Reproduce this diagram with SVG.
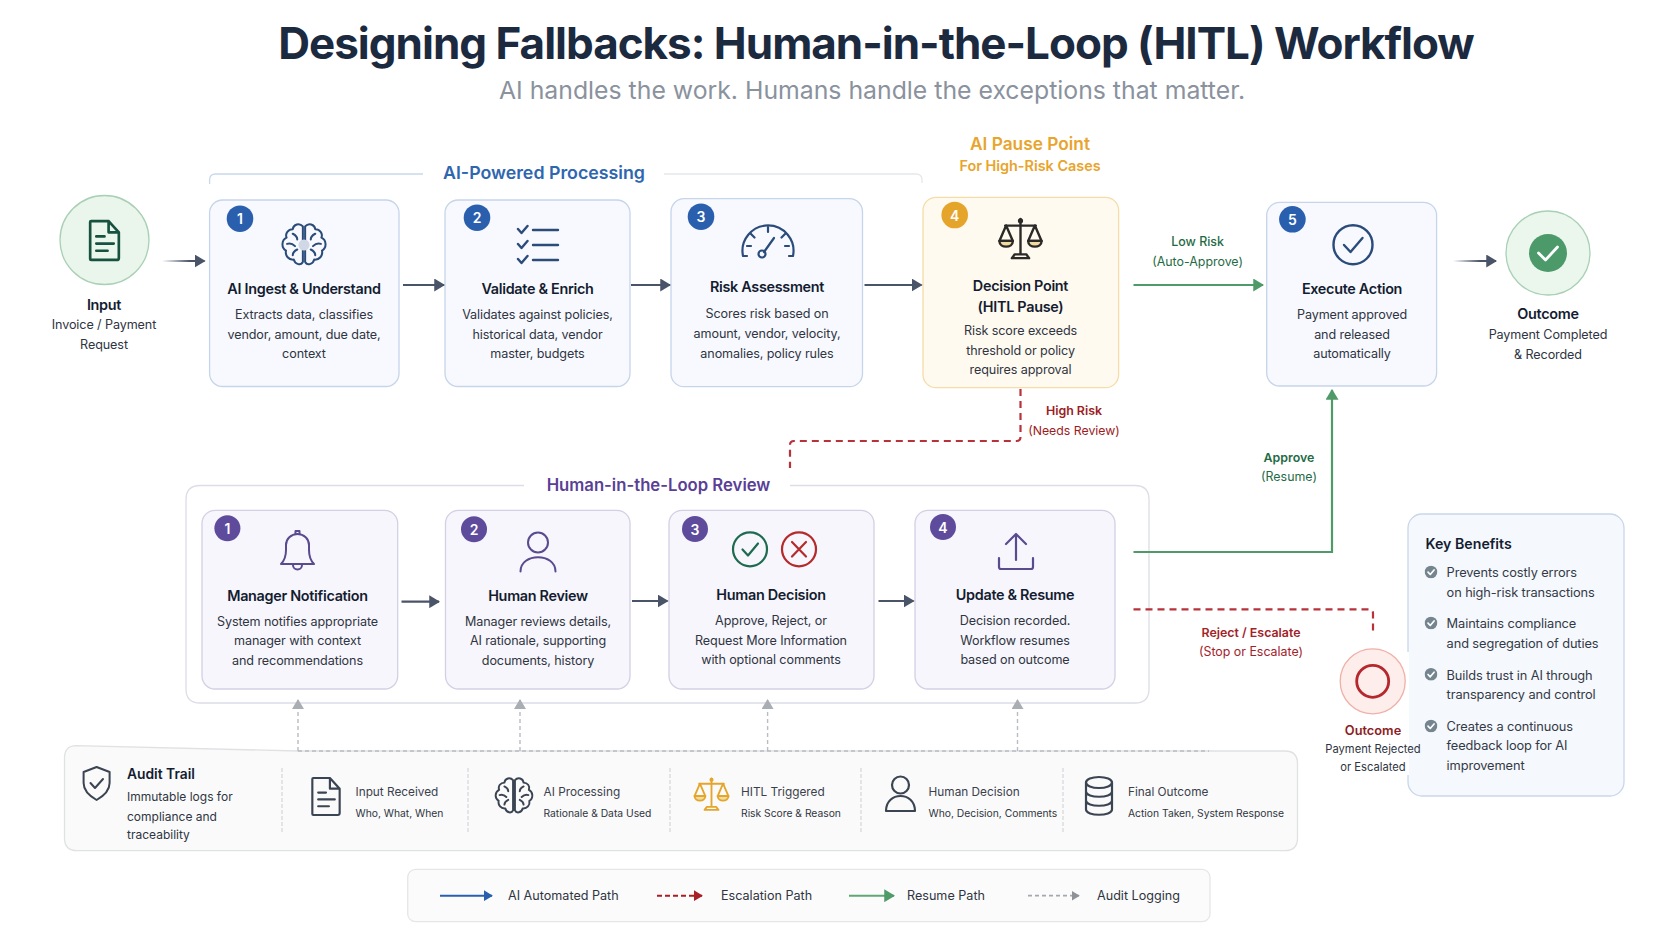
<svg xmlns="http://www.w3.org/2000/svg" width="1672" height="941" viewBox="0 0 1672 941">
<style>
text{font-family:"Inter","Liberation Sans",sans-serif;dominant-baseline:central;fill:#2f3542}
.m{text-anchor:middle}
.ttl{font-size:44px;font-weight:700;fill:#1c2a3f;letter-spacing:-1px}
.sub{font-size:24.800px;fill:#8a929e}
.h{font-size:14.400px;font-weight:600;fill:#141c30;text-anchor:middle;letter-spacing:-.3px}
.b{font-size:12.600px;fill:#2f3542;text-anchor:middle;letter-spacing:-.1px}
.n{font-size:14px;font-weight:600;fill:#fff;text-anchor:middle}
.card{fill:#f7f9fe;stroke:#c6d5ea;stroke-width:1.3}
.pcard{fill:#f7f6fc;stroke:#d3d0e4;stroke-width:1.3}
.bb{fill:#2a5fae}.pb{fill:#5f4b9b}
.ic{fill:none;stroke-linecap:round;stroke-linejoin:round}
.c{fill:none;stroke-width:2.2}
.slate{stroke:#4a5468}
.grn{stroke:#4f9a68}
.red{stroke:#b8323a;stroke-dasharray:7 5}
.aud{stroke:#b9bcc2;stroke-width:1.4;stroke-dasharray:4 3}
.at{font-size:11.800px;fill:#3a404c}
.as{font-size:10.300px;fill:#2f3542}
.lg{font-size:12.600px;fill:#2f3542}
.kb{font-size:12.800px;fill:#333a46;letter-spacing:-.1px}
.cl{font-size:12.400px}
</style>
<defs>
<marker id="aS" viewBox="0 0 10 12" refX="9" refY="6" markerWidth="11" markerHeight="13" markerUnits="userSpaceOnUse" orient="auto"><path d="M0 0L10 6L0 12z" fill="#4a5468"/></marker>
<marker id="aG" viewBox="0 0 10 12" refX="9" refY="6" markerWidth="11" markerHeight="13" markerUnits="userSpaceOnUse" orient="auto"><path d="M0 0L10 6L0 12z" fill="#4f9a68"/></marker>
<marker id="aA" viewBox="0 0 10 12" refX="9" refY="6" markerWidth="10" markerHeight="12" markerUnits="userSpaceOnUse" orient="auto"><path d="M0 0L10 6L0 12z" fill="#a9adb4"/></marker>
<marker id="aB" viewBox="0 0 10 12" refX="9" refY="6" markerWidth="9" markerHeight="11" markerUnits="userSpaceOnUse" orient="auto"><path d="M0 0L10 6L0 12z" fill="#2a5fae"/></marker>
<marker id="aR" viewBox="0 0 10 12" refX="9" refY="6" markerWidth="9" markerHeight="11" markerUnits="userSpaceOnUse" orient="auto"><path d="M0 0L10 6L0 12z" fill="#a81f26"/></marker>
<marker id="aL" viewBox="0 0 10 12" refX="9" refY="6" markerWidth="8" markerHeight="10" markerUnits="userSpaceOnUse" orient="auto"><path d="M0 0L10 6L0 12z" fill="#8f9298"/></marker>
<linearGradient id="fa" gradientUnits="userSpaceOnUse" x1="162" y1="0" x2="190" y2="0"><stop offset="0" stop-color="#4a5468" stop-opacity="0"/><stop offset="1" stop-color="#4a5468"/></linearGradient>
<linearGradient id="fb" gradientUnits="userSpaceOnUse" x1="1453" y1="0" x2="1480" y2="0"><stop offset="0" stop-color="#4a5468" stop-opacity="0"/><stop offset="1" stop-color="#4a5468"/></linearGradient>
<symbol id="brain" viewBox="0 0 48 48">
<g class="ic">
<path d="M23 7.500c-3-3.500-8.500-2-9 2.500c-4 0-7 3.500-5.500 7.500c-4.500 2-5 9-.5 11.500c-1 4.500 2.500 8.500 7 8c1 4.500 6.500 5.500 8 2z"/>
<path d="M25 7.500c3-3.500 8.500-2 9 2.500c4 0 7 3.500 5.500 7.500c4.500 2 5 9 .5 11.500c1 4.500-2.500 8.500-7 8c-1 4.500-6.500 5.500-8 2z"/>
<path d="M14 14c2 1 4 3 4 5M9 23c3-1 5 0 7 2M14 33c0-3 2-4 4-5M34 14c-2 1-4 3-4 5M39 23c-3-1-5 0-7 2M34 33c0-3-2-4-4-5"/>
</g></symbol>
<symbol id="scales" viewBox="0 0 48 48"><g class="ic">
<path d="M24 3v37M15 44h18l-3-4H18zM8 10h32"/>
<circle cx="24" cy="5" r="1.500"/>
<path d="M9 10L2 26h14zM39 10L32 26h14z"/>
<path d="M2 26c0 8 14 8 14 0zM32 26c0 8 14 8 14 0z" fill="#f0dba0"/>
</g></symbol>
<symbol id="doc" viewBox="0 0 32 42"><g class="ic">
<path d="M3 2h17l10 11v25a2 2 0 0 1-2 2H3a1 1 0 0 1-1-1V3a1 1 0 0 1 1-1zM20 2v11h10"/>
<path d="M8 17h8M8 24h17M8 31h11"/>
</g></symbol>
<symbol id="cm" viewBox="0 0 14 14"><circle cx="7" cy="7" r="6.800" fill="#74858f"/><path d="M3.800 7.200L6.200 9.700L10.300 4.800" fill="none" stroke="#fff" stroke-width="1.800" stroke-linecap="round" stroke-linejoin="round"/></symbol>
</defs>

<rect width="1672" height="941" fill="#fff"/>
<text class="ttl m" x="876" y="43">Designing Fallbacks: Human-in-the-Loop (HITL) Workflow</text>
<text class="sub m" x="872" y="90">AI handles the work. Humans handle the exceptions that matter.</text>

<g id="frames">
<path d="M209.600 184V180q0-6 6-6H423" fill="none" stroke="#c9d9ea" stroke-width="1.300"/>
<path d="M664 174H916q6 0 6 6v3" fill="none" stroke="#e6e8ea" stroke-width="1.300"/>
<text x="544" y="172" class="m" style="font-size:17.800px;font-weight:600;fill:#2f66b0">AI-Powered Processing</text>
<path d="M524 485.500H200q-14 0-14 14V689q0 14 14 14H1135q14 0 14-14V499.500q0-14-14-14H790" fill="none" stroke="#dcdde6" stroke-width="1.300"/>
<text x="658.500" y="485" class="m" style="font-size:16.700px;font-weight:600;fill:#5a3f96">Human-in-the-Loop Review</text>
<text x="1030" y="143" class="m" style="font-size:17.300px;font-weight:600;fill:#e8a42c">AI Pause Point</text>
<text x="1030" y="165.500" class="m" style="font-size:14.400px;font-weight:600;fill:#e8a42c">For High-Risk Cases</text>
</g>

<g id="input">
<circle cx="104.500" cy="240" r="44.500" fill="#eaf5ec" stroke="#a8d0b4" stroke-width="1.300"/>
<use href="#doc" x="88" y="219" width="33" height="43" style="stroke:#17513f;stroke-width:2.600"/>
<text class="h" x="104" y="304">Input</text>
<text class="b" x="104" y="324">Invoice / Payment</text>
<text class="b" x="104" y="344">Request</text>
</g>

<g id="step1">
<rect class="card" x="209.600" y="200" width="189.400" height="186.500" rx="13"/>
<circle class="bb" cx="240" cy="218.700" r="13.300"/><text class="n" x="240" y="218.700">1</text>
<use href="#brain" x="277" y="218" width="54" height="54" style="stroke:#2b4c7a;stroke-width:1.800"/>
<circle cx="304" cy="245" r="5.500" fill="#cfd8e4"/>
<text class="h" x="304" y="288">AI Ingest &amp; Understand</text>
<text class="b" x="304" y="314">Extracts data, classifies</text>
<text class="b" x="304" y="334">vendor, amount, due date,</text>
<text class="b" x="304" y="353.500">context</text>
</g>

<g id="step2">
<rect class="card" x="445" y="200" width="185" height="186.500" rx="13"/>
<circle class="bb" cx="477" cy="217.700" r="13.300"/><text class="n" x="477" y="217.700">2</text>
<g class="ic" style="stroke:#2b4c7a;stroke-width:2.400"><path d="M518 229l3.500 4l6-7M518 244l3.500 4l6-7M518 259l3.500 4l6-7"/><path d="M533 230h25M533 245h25M533 260h25"/></g>
<text class="h" x="537.500" y="288">Validate &amp; Enrich</text>
<text class="b" x="537.500" y="314">Validates against policies,</text>
<text class="b" x="537.500" y="334">historical data, vendor</text>
<text class="b" x="537.500" y="353.500">master, budgets</text>
</g>

<g id="step3">
<rect class="card" x="671" y="198.700" width="191.500" height="188" rx="13"/>
<circle class="bb" cx="701" cy="216.700" r="13.300"/><text class="n" x="701" y="216.700">3</text>
<g class="ic" style="stroke:#2b4c7a;stroke-width:2.200"><path d="M743 256a25.500 25.500 0 1 1 50 0h-4M743 256h4"/><path d="M764 252l10-14"/><circle cx="762" cy="254" r="3.500"/><path d="M768 227v5M751 234l3.500 3.500M785 234l-3.500 3.500M747 246h4M789 246h-4"/></g>
<text class="h" x="767" y="286.700">Risk Assessment</text>
<text class="b" x="767" y="313">Scores risk based on</text>
<text class="b" x="767" y="333">amount, vendor, velocity,</text>
<text class="b" x="767" y="353">anomalies, policy rules</text>
</g>

<g id="step4">
<rect x="923" y="197.300" width="195.600" height="190.400" rx="13" fill="#fffaf0" stroke="#f5dca8" stroke-width="1.300"/>
<circle cx="954.700" cy="215" r="13.300" fill="#e5a52b"/><text class="n" x="954.700" y="215">4</text>
<use href="#scales" x="997.500" y="216" width="46" height="46" style="stroke:#2b2a26;stroke-width:2.500"/>
<text class="h" x="1020.500" y="285">Decision Point</text>
<text class="h" x="1020.500" y="306.700">(HITL Pause)</text>
<text class="b" x="1020.500" y="330">Risk score exceeds</text>
<text class="b" x="1020.500" y="350">threshold or policy</text>
<text class="b" x="1020.500" y="369">requires approval</text>
</g>

<g id="step5">
<rect class="card" x="1266.700" y="202.300" width="169.900" height="183.700" rx="13"/>
<circle class="bb" cx="1292.400" cy="219.300" r="13.300"/><text class="n" x="1292.400" y="219.300">5</text>
<circle cx="1353" cy="244.700" r="19.500" fill="none" stroke="#2b4c7a" stroke-width="2.400"/>
<path class="ic" d="M1344 245l6.500 7l12-14" style="stroke:#2b4c7a;stroke-width:2.400"/>
<text class="h" x="1352" y="288">Execute Action</text>
<text class="b" x="1352" y="314">Payment approved</text>
<text class="b" x="1352" y="334">and released</text>
<text class="b" x="1352" y="353.500">automatically</text>
</g>

<g id="outcome-ok">
<circle cx="1548" cy="253" r="42" fill="#ebf6ed" stroke="#a8d0b4" stroke-width="1.300"/>
<circle cx="1548" cy="253" r="19" fill="#4c9a6a"/>
<path class="ic" d="M1538.500 253l7 7l12-13" style="stroke:#fff;stroke-width:2.800"/>
<text class="h" x="1548" y="313.700">Outcome</text>
<text class="b" x="1548" y="334.700">Payment Completed</text>
<text class="b" x="1548" y="354">&amp; Recorded</text>
</g>

<g id="hitl1">
<rect class="pcard" x="202" y="510.300" width="195.700" height="178.700" rx="13"/>
<circle class="pb" cx="227.400" cy="528.300" r="13"/><text class="n" x="227.400" y="528.300">1</text>
<g class="ic" style="stroke:#5a4a8f;stroke-width:2"><path d="M281 564c3-3 5-7 5-14v-5c0-6 5-11 11.500-11s11.500 5 11.500 11v5c0 7 2 11 5 14z"/><path d="M295.500 534v-3h4v3M293 565c0 6 9 6 9 0"/></g>
<text class="h" x="297.500" y="595">Manager Notification</text>
<text class="b" x="297.500" y="621">System notifies appropriate</text>
<text class="b" x="297.500" y="640.500">manager with context</text>
<text class="b" x="297.500" y="660">and recommendations</text>
</g>

<g id="hitl2">
<rect class="pcard" x="445.500" y="510.300" width="184.500" height="178.700" rx="13"/>
<circle class="pb" cx="474" cy="529.300" r="13"/><text class="n" x="474" y="529.300">2</text>
<g class="ic" style="stroke:#5a4a8f;stroke-width:2"><circle cx="538" cy="542.500" r="10"/><path d="M520.500 571.500c0-19 35-19 35 0"/></g>
<text class="h" x="538" y="595">Human Review</text>
<text class="b" x="538" y="621">Manager reviews details,</text>
<text class="b" x="538" y="640.500">AI rationale, supporting</text>
<text class="b" x="538" y="660">documents, history</text>
</g>

<g id="hitl3">
<rect class="pcard" x="669" y="510.300" width="205" height="178.700" rx="13"/>
<circle class="pb" cx="695" cy="529" r="13"/><text class="n" x="695" y="529">3</text>
<circle cx="750" cy="549.300" r="17" fill="none" stroke="#1f6b4f" stroke-width="2.200"/>
<path class="ic" d="M742.500 549.500l5.500 6l10-12" style="stroke:#1f6b4f;stroke-width:2.200"/>
<circle cx="799" cy="549.300" r="17" fill="none" stroke="#b52a2a" stroke-width="2.200"/>
<path class="ic" d="M792 542l14 14.500M806 542l-14 14.500" style="stroke:#b52a2a;stroke-width:2.200"/>
<text class="h" x="771" y="594">Human Decision</text>
<text class="b" x="771" y="620.700">Approve, Reject, or</text>
<text class="b" x="771" y="640">Request More Information</text>
<text class="b" x="771" y="659.500">with optional comments</text>
</g>

<g id="hitl4">
<rect class="pcard" x="915" y="510.300" width="200" height="178.700" rx="13"/>
<circle class="pb" cx="943" cy="527" r="13"/><text class="n" x="943" y="527">4</text>
<g class="ic" style="stroke:#5a4a8f;stroke-width:2.200"><path d="M1016 534v26M1006 544l10-10l10 10"/><path d="M999 558v9a2 2 0 0 0 2 2h30a2 2 0 0 0 2-2v-9"/></g>
<text class="h" x="1015" y="594">Update &amp; Resume</text>
<text class="b" x="1015" y="620.700">Decision recorded.</text>
<text class="b" x="1015" y="640">Workflow resumes</text>
<text class="b" x="1015" y="659.500">based on outcome</text>
</g>

<g id="benefits">
<rect x="1408" y="514" width="216" height="282" rx="14" fill="#f5f8fd" stroke="#c9d6ea" stroke-width="1.300"/>
<path d="M1408 652V775" stroke="#fff" stroke-width="2"/>
<text x="1425.500" y="543" style="font-size:14.200px;font-weight:600;fill:#141c30">Key Benefits</text>
<use href="#cm" x="1424.500" y="565.500" width="13" height="13"/>
<use href="#cm" x="1424.500" y="616.500" width="13" height="13"/>
<use href="#cm" x="1424.500" y="667.800" width="13" height="13"/>
<use href="#cm" x="1424.500" y="719.500" width="13" height="13"/>
<text class="kb" x="1446.600" y="572.500">Prevents costly errors</text>
<text class="kb" x="1446.600" y="592">on high-risk transactions</text>
<text class="kb" x="1446.600" y="623.500">Maintains compliance</text>
<text class="kb" x="1446.600" y="643">and segregation of duties</text>
<text class="kb" x="1446.600" y="675">Builds trust in AI through</text>
<text class="kb" x="1446.600" y="694">transparency and control</text>
<text class="kb" x="1446.600" y="726">Creates a continuous</text>
<text class="kb" x="1446.600" y="745.500">feedback loop for AI</text>
<text class="kb" x="1446.600" y="765">improvement</text>
</g>

<g id="outcome-bad">
<circle cx="1372.700" cy="681.300" r="32.500" fill="#fdeeec" stroke="#efb0a8" stroke-width="1.300"/>
<circle cx="1372.700" cy="681.300" r="16" fill="none" stroke="#b5282e" stroke-width="2.800"/>
<text x="1373" y="730.300" class="m" style="font-size:12.800px;font-weight:600;fill:#8c1d24">Outcome</text>
<text x="1373" y="749.300" class="m" style="font-size:11.200px;fill:#2f3542">Payment Rejected</text>
<text x="1373" y="767" class="m" style="font-size:11.200px;fill:#2f3542">or Escalated</text>
</g>

<g id="audit">
<path d="M76 745.700L298 751H1285q12.500 0 12.500 12.500V838q0 12.700-12.500 12.700H77q-12.500 0-12.500-12.700V758q0-12 11.500-12.300z" fill="#fafafa" stroke="#e0e1e3" stroke-width="1.300"/>
<g class="ic" style="stroke:#3a4452;stroke-width:2"><path d="M96.600 767l13 5v11c0 8-6 13-13 17c-7-4-13-9-13-17v-11z"/><path d="M90.500 783l4.500 5l8-9"/></g>
<text x="127" y="774" style="font-size:13.800px;font-weight:600;fill:#141c30">Audit Trail</text>
<text class="cl" x="127" y="796.700" style="font-size:12px">Immutable logs for</text>
<text class="cl" x="127" y="816" style="font-size:12px">compliance and</text>
<text class="cl" x="127" y="834.700" style="font-size:12px">traceability</text>
<g stroke="#d4d6da" stroke-width="1.200" stroke-dasharray="4 2"><path d="M282 768V834M468 768V834M670 768V834M861 768V834M1063 768V834"/></g>
<use href="#doc" x="310" y="776" width="32" height="41" style="stroke:#3a4452;stroke-width:2.200"/>
<text class="at" x="355.500" y="791.700">Input Received</text><text class="as" x="355.500" y="813">Who, What, When</text>
<use href="#brain" x="491" y="773" width="46" height="46" style="stroke:#3a4452;stroke-width:2"/>
<text class="at" x="543.500" y="791.700">AI Processing</text><text class="as" x="543.500" y="813">Rationale &amp; Data Used</text>
<use href="#scales" x="693" y="776" width="37" height="37" style="stroke:#e5a52b;stroke-width:2.400"/>
<text class="at" x="741" y="791.700">HITL Triggered</text><text class="as" x="741" y="813">Risk Score &amp; Reason</text>
<g class="ic" style="stroke:#3a4452;stroke-width:2.200"><circle cx="900.500" cy="785" r="8.500"/><path d="M886 811c0-20 29-20 29 0z"/></g>
<text class="at" x="928.600" y="791.700">Human Decision</text><text class="as" x="928.600" y="813">Who, Decision, Comments</text>
<g class="ic" style="stroke:#3a4452;stroke-width:2.200"><ellipse cx="1099" cy="782.500" rx="13" ry="5.500"/><path d="M1086 782.500v27c0 7 26 7 26 0v-27M1086 791.500c0 7 26 7 26 0M1086 800.500c0 7 26 7 26 0"/></g>
<text class="at" x="1128" y="791.700">Final Outcome</text><text class="as" x="1128" y="813">Action Taken, System Response</text>
</g>

<g id="connectors">
<path class="c" d="M162 261H204.500" stroke="url(#fa)" marker-end="url(#aS)"/>
<path class="c slate" d="M403 285H444" marker-end="url(#aS)"/>
<path class="c slate" d="M631 285H670" marker-end="url(#aS)"/>
<path class="c slate" d="M864.500 285H921.500" marker-end="url(#aS)"/>
<path class="c" d="M1453 261H1496" stroke="url(#fb)" marker-end="url(#aS)"/>
<path class="c grn" d="M1133.500 285H1263" marker-end="url(#aG)"/>
<path class="c grn" d="M1133.500 552H1332V390" marker-end="url(#aG)"/>
<path class="c red" d="M1020.500 389V437q0 4-4 4H794q-4 0-4 4V468"/>
<path class="c red" d="M1133.500 609.300H1369q4 0 4 4V634"/>
<path class="c slate" d="M401.500 601.700H439" marker-end="url(#aS)"/>
<path class="c slate" d="M632 601H667.500" marker-end="url(#aS)"/>
<path class="c slate" d="M878.500 601H913.500" marker-end="url(#aS)"/>
<path class="aud" fill="none" d="M298 751H1209"/>
<path class="aud" fill="none" d="M298 751V700" marker-end="url(#aA)"/>
<path class="aud" fill="none" d="M520 751V700" marker-end="url(#aA)"/>
<path class="aud" fill="none" d="M767.600 751V700" marker-end="url(#aA)"/>
<path class="aud" fill="none" d="M1017.500 751V700" marker-end="url(#aA)"/>
<text x="1197.600" y="241.700" class="m" style="font-size:12.400px;font-weight:500;fill:#1f6b45">Low Risk</text>
<text x="1197.600" y="261" class="m" style="font-size:12.400px;fill:#1f6b45">(Auto-Approve)</text>
<text x="1074" y="410.700" class="m" style="font-size:12.400px;font-weight:600;fill:#9c1c24">High Risk</text>
<text x="1074" y="430" class="m" style="font-size:12.300px;fill:#9c1c24">(Needs Review)</text>
<text x="1289" y="457.500" class="m" style="font-size:12.400px;font-weight:600;fill:#1f6b45">Approve</text>
<text x="1289" y="476.600" class="m" style="font-size:12.400px;fill:#1f6b45">(Resume)</text>
<text x="1251" y="632" class="m" style="font-size:12.400px;font-weight:600;fill:#a3222a">Reject / Escalate</text>
<text x="1251" y="651" class="m" style="font-size:12.400px;fill:#a3222a">(Stop or Escalate)</text>
</g>

<g id="legend">
<rect x="407.700" y="869.300" width="802.300" height="52.400" rx="8" fill="#fbfbfb" stroke="#e5e6e8" stroke-width="1.300"/>
<path d="M440 895.700H492" stroke="#2a5fae" stroke-width="2" fill="none" marker-end="url(#aB)"/>
<text class="lg" x="508" y="895.700">AI Automated Path</text>
<path d="M657 895.700H702" stroke="#a81f26" stroke-width="2" stroke-dasharray="5 3" fill="none" marker-end="url(#aR)"/>
<text class="lg" x="721" y="895.700">Escalation Path</text>
<path d="M849 895.700H894" stroke="#5fa873" stroke-width="2" fill="none" marker-end="url(#aG)"/>
<text class="lg" x="907" y="895.700">Resume Path</text>
<path d="M1028 895.700H1079" stroke="#a5a8ae" stroke-width="1.800" stroke-dasharray="4 3" fill="none" marker-end="url(#aL)"/>
<text class="lg" x="1097" y="895.700">Audit Logging</text>
</g>
</svg>
